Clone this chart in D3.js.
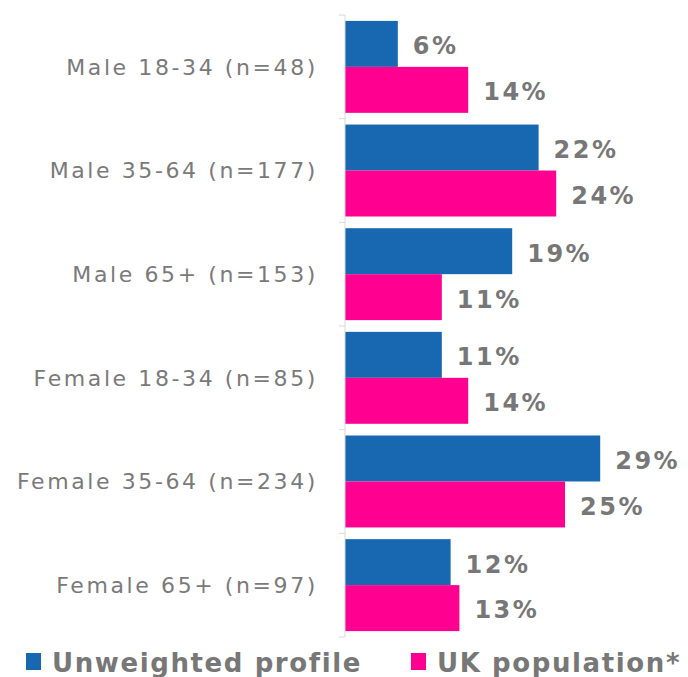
<!DOCTYPE html>
<html>
<head>
<meta charset="utf-8">
<script src="https://cdn.jsdelivr.net/npm/d3@7"></script>
<style>
  body { margin: 0; background: #fff; }
  text { font-family: "DejaVu Sans", Verdana, sans-serif; }
</style>
</head>
<body>
<svg id="chart" width="688" height="677"></svg>
<script>
// data
var categories = ["Male 18-34 (n=48)", "Male 35-64 (n=177)", "Male 65+ (n=153)",
                  "Female 18-34 (n=85)", "Female 35-64 (n=234)", "Female 65+ (n=97)"]
var seriesNames = ["Unweighted profile", "UK population*"]
var unweighted = [6, 22, 19, 11, 29, 12]
var ukPopulation = [14, 24, 11, 14, 25, 13]
var colors = ["#1767b1", "#ff0090"]

var svg = d3.select("#chart")

var x = d3.scaleLinear().domain([0, 30]).range([345, 609])
var y = d3.scaleBand().domain(categories).range([15, 637]).paddingInner(0.113).paddingOuter(0.057)
var ySub = d3.scaleBand().domain(seriesNames).range([0, y.bandwidth()])

var rows = categories.map(function(c, i) {
  return { cat: c, vals: [unweighted[i], ukPopulation[i]] }
})

// bars
var groups = svg.selectAll(".grp")
  .data(rows)
  .enter()
  .append("g")
  .attr("class", "grp")
  .attr("transform", function(d) { return "translate(0," + y(d.cat) + ")" })

groups.selectAll("rect")
  .data(function(d) { return d.vals.map(function(v, i) { return { v: v, s: seriesNames[i], i: i } }) })
  .enter()
  .append("rect")
  .attr("x", x(0))
  .attr("y", function(d) { return ySub(d.s) })
  .attr("width", function(d) { return x(d.v) - x(0) })
  .attr("height", ySub.bandwidth())
  .attr("fill", function(d) { return colors[d.i] })

// value labels
groups.selectAll(".val")
  .data(function(d) { return d.vals.map(function(v, i) { return { v: v, s: seriesNames[i] } }) })
  .enter()
  .append("text")
  .attr("class", "val")
  .attr("x", function(d) { return x(d.v) + 15 })
  .attr("y", function(d) { return ySub(d.s) + ySub.bandwidth() / 2 + 2 })
  .attr("dy", "0.35em")
  .attr("font-size", 24)
  .attr("font-weight", "bold")
  .attr("letter-spacing", 2.5)
  .attr("fill", "#777")
  .text(function(d) { return d.v + "%" })

// axis (vertical, ticks at band edges)
var axisG = svg.append("g")
axisG.append("line")
  .attr("x1", x(0)).attr("x2", x(0))
  .attr("y1", 15).attr("y2", 637)
  .attr("stroke", "#d9d9d9")
var edges = categories.map(function(c) { return y(c) - y.step() * y.paddingInner() / 2 })
edges.push(637)
axisG.selectAll(".tk")
  .data(edges)
  .enter()
  .append("line")
  .attr("x1", x(0) - 6).attr("x2", x(0))
  .attr("y1", function(d) { return d }).attr("y2", function(d) { return d })
  .attr("stroke", "#d9d9d9")

// category labels
svg.selectAll(".cat")
  .data(categories)
  .enter()
  .append("text")
  .attr("class", "cat")
  .attr("x", 318)
  .attr("y", function(d) { return y(d) + y.bandwidth() / 2 })
  .attr("dy", "0.35em")
  .attr("text-anchor", "end")
  .attr("font-size", 22)
  .attr("letter-spacing", 2.6)
  .attr("fill", "#7a7a7a")
  .text(function(d) { return d })

// legend
var legendX = [26, 411]
var leg = svg.selectAll(".leg")
  .data(seriesNames)
  .enter()
  .append("g")
  .attr("class", "leg")
  .attr("transform", function(d, i) { return "translate(" + legendX[i] + ",653)" })
leg.append("rect")
  .attr("width", 15).attr("height", 17)
  .attr("fill", function(d, i) { return colors[i] })
leg.append("text")
  .attr("x", 26)
  .attr("y", 19)
  .attr("font-size", 26)
  .attr("font-weight", "bold")
  .attr("letter-spacing", 1.6)
  .attr("fill", "#777")
  .text(function(d) { return d })
</script>
</body>
</html>
